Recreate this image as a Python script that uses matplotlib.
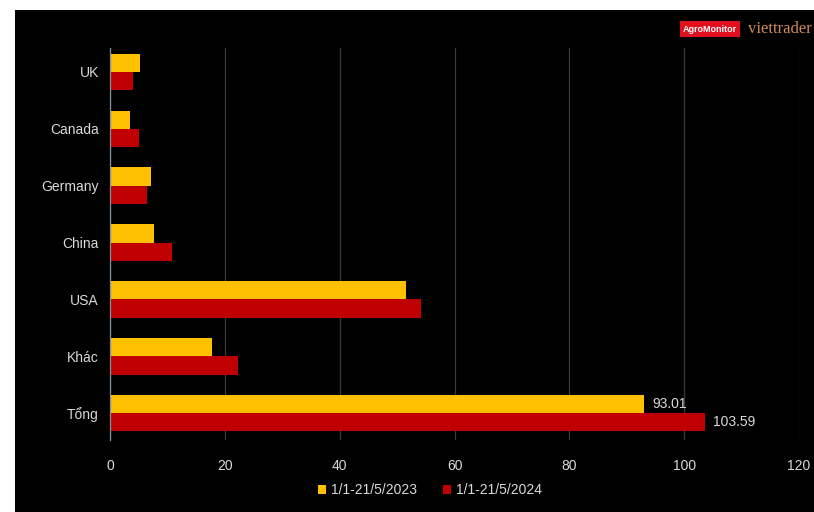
import numpy as np
import matplotlib.pyplot as plt
from matplotlib.patches import Rectangle

plt.rcParams['font.family'] = ['Liberation Sans', 'DejaVu Sans']

# Data
categories = ['UK', 'Canada', 'Germany', 'China', 'USA', 'Khác', 'Tổng']
vals_2023 = [5.2, 3.5, 7.1, 7.7, 51.6, 17.8, 93.01]
vals_2024 = [4.0, 5.0, 6.5, 10.8, 54.2, 22.3, 103.59]
series_names = ['1/1-21/5/2023', '1/1-21/5/2024']
xticks = [0, 20, 40, 60, 80, 100, 120]

yellow = '#FFC000'
red = '#C00000'
txt = '#D9D9D9'

fig = plt.figure(figsize=(8.14, 5.12), dpi=100, facecolor='white')
# black panel (white strip on top and left)
fig.patches.append(Rectangle((15 / 814, 0), 1 - 15 / 814, 1 - 10 / 512,
                             transform=fig.transFigure, facecolor='black',
                             edgecolor='none', zorder=-5))

ax = fig.add_axes([110 / 814, 1 - 440 / 512, 689 / 814, 392 / 512])
ax.set_facecolor('black')

y = np.arange(len(categories))
h = 0.32
b1 = ax.barh(y - h / 2, vals_2023, height=h, color=yellow, label=series_names[0], zorder=3)
b2 = ax.barh(y + h / 2, vals_2024, height=h, color=red, label=series_names[1], zorder=3)

# value labels only on the total
ax.text(vals_2023[-1] + 1.5, y[-1] - h / 2, f'{vals_2023[-1]:.2f}', color=txt,
        fontsize=10, va='center', ha='left', zorder=4)
ax.text(vals_2024[-1] + 1.5, y[-1] + h / 2, f'{vals_2024[-1]:.2f}', color=txt,
        fontsize=10, va='center', ha='left', zorder=4)

ax.set_yticks(y)
ax.set_yticklabels(categories, color=txt, fontsize=10)
ax.set_ylim(6.47, -0.42)
ax.set_xlim(0, 120)
ax.set_xticks(xticks)
ax.set_xticklabels([str(t) for t in xticks], color=txt, fontsize=10)
ax.tick_params(axis='both', length=0, pad=8)
ax.tick_params(axis='x', pad=14)

ax.grid(axis='x', color='#3a3a3a', linewidth=0.9, zorder=0)
for s in ['top', 'right', 'bottom']:
    ax.spines[s].set_visible(False)
ax.spines['left'].set_color('#8090a0')
ax.spines['left'].set_linewidth(0.9)
ax.spines['left'].set_zorder(5)

leg = fig.legend(handles=[b1, b2], loc='center', bbox_to_anchor=(430 / 814, 1 - 490 / 512),
                 ncol=2, frameon=False, fontsize=10, handlelength=0.6, handleheight=0.6,
                 handletextpad=0.4, columnspacing=1.8)
for t in leg.get_texts():
    t.set_color(txt)

# logo
fig.text(683 / 814, 1 - 29 / 512, 'AgroMonitor', fontsize=6.5, color='white',
         fontweight='bold', va='center', ha='left',
         bbox=dict(boxstyle='square,pad=0.35', facecolor='#E0101E', edgecolor='none'))
fig.text(748 / 814, 1 - 29 / 512, 'viettrader', fontsize=12, color='#D08A5A',
         family='Liberation Serif', va='center', ha='left')

fig.savefig('out.png', dpi=100, facecolor=fig.get_facecolor())
